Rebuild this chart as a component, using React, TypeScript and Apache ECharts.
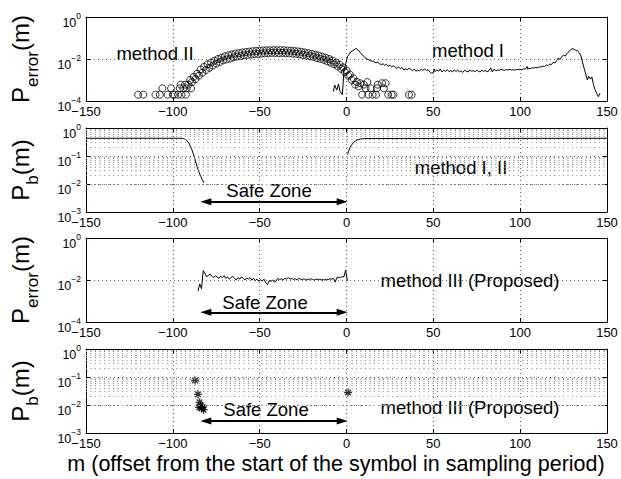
import React, { useEffect, useRef } from "react";
import * as echarts from "echarts";

const FONT = "'Liberation Sans', Arial, Helvetica, sans-serif";

// ---------- axis ticks ----------
const X_MIN = -150;
const X_MAX = 150;
const X_STEP = 50;
const MINOR_MULTS = [2, 3, 4, 5, 6, 7, 8, 9];
const MINOR_DECADES = [1e-3, 1e-2, 1e-1];

// ---------- panel 1 : method II (circles) ----------
const M2_POINTS: [number, number][] = [
  [-120, 2e-4], [-117, 2e-4], [-110, 2e-4], [-107.5, 2e-4], [-106, 4e-4], [-103, 2e-4],
  [-101, 4e-4], [-100, 2e-4], [-99, 2e-4], [-97, 2e-4], [-96, 4e-4], [-95.5, 6e-4],
  [-95, 2e-4], [-94, 4e-4], [-93, 6e-4], [-92.5, 2e-4], [-92, 4e-4], [-91, 6e-4],
  [-90, 1e-3], [-89.5, 4e-4], [-89, 8e-4], [-88, 1.4e-3], [-87, 1.1e-3], [-86, 2.0e-3],
  [-85, 1.6e-3], [-84, 3.2e-3], [-83, 2.2e-3], [-82, 4.2e-3], [-81, 3.0e-3], [-80, 5.6e-3],
  [-79, 3.8e-3], [-78, 6.8e-3], [-77, 4.8e-3], [-76, 8.2e-3], [-75, 6.0e-3], [-74, 1.0e-2],
  [-73, 7.2e-3], [-72, 1.15e-2], [-71, 8.6e-3], [-70, 1.35e-2], [-69, 9.6e-3], [-68, 1.5e-2],
  [-67, 1.05e-2], [-66, 1.65e-2], [-65, 1.2e-2], [-64, 1.8e-2], [-63, 1.3e-2], [-62, 1.9e-2],
  [-61, 1.4e-2], [-60, 2.05e-2], [-59, 1.5e-2], [-58, 2.15e-2], [-57, 1.55e-2], [-56, 2.25e-2],
  [-55, 1.65e-2], [-54, 2.35e-2], [-53, 1.7e-2], [-52, 2.4e-2], [-51, 1.75e-2], [-50, 2.5e-2],
  [-49, 1.8e-2], [-48, 2.55e-2], [-47, 1.85e-2], [-46, 2.6e-2], [-45, 1.9e-2], [-44, 2.6e-2],
  [-43, 1.95e-2], [-42, 2.65e-2], [-41, 1.95e-2], [-40, 2.6e-2], [-39, 1.9e-2], [-38, 2.65e-2],
  [-37, 1.95e-2], [-36, 2.6e-2], [-35, 1.9e-2], [-34, 2.55e-2], [-33, 1.85e-2], [-32, 2.5e-2],
  [-31, 1.8e-2], [-30, 2.4e-2], [-29, 1.75e-2], [-28, 2.3e-2], [-27, 1.65e-2], [-26, 2.2e-2],
  [-25, 1.55e-2], [-24, 2.05e-2], [-23, 1.45e-2], [-22, 1.9e-2], [-21, 1.35e-2], [-20, 1.75e-2],
  [-19, 1.25e-2], [-18, 1.6e-2], [-17, 1.1e-2], [-16, 1.45e-2], [-15, 1.0e-2], [-14, 1.3e-2],
  [-13, 9.0e-3], [-12, 1.15e-2], [-11, 7.8e-3], [-10, 1.0e-2], [-9, 6.6e-3], [-8, 8.4e-3],
  [-7, 5.6e-3], [-6, 6.8e-3], [-5, 4.4e-3], [-4, 5.4e-3], [-3, 3.4e-3], [-2, 4.0e-3],
  [-1, 2.4e-3], [0, 2.8e-3], [1, 1.6e-3], [2, 1.8e-3], [3, 1.0e-3], [4, 1.2e-3],
  [5, 6e-4], [6, 8e-4], [7, 5e-4], [8, 7e-4], [9, 2e-4], [10, 6e-4], [11, 4e-4],
  [12, 8e-4], [12.5, 2e-4], [14, 4e-4], [15, 2e-4], [17, 2e-4], [17.5, 4e-4], [18, 6e-4],
  [20.5, 7e-4], [21.5, 4e-4], [22.5, 7e-4], [24, 2e-4], [26, 2e-4], [27, 2e-4],
  [36, 2e-4], [37.5, 2e-4],
];

// ---------- panel 1 : method I (line) ----------
const M1_POINTS: [number, number][] = [
  [-7.6, 2.8e-4], [-6.8, 5.8e-4], [-5.6, 3.3e-4], [-4.6, 6.5e-4], [-3.7, 2.8e-4], [-2.4, 2.0e-4],
  [-1.4, 3.0e-3], [-0.4, 6.2e-3], [0.6, 1.3e-2], [2.5, 2.2e-2], [4, 2.6e-2], [5.4, 3.2e-2],
  [6.7, 2.7e-2], [8.2, 1.9e-2], [10, 1.3e-2], [11, 1.1e-2], [12.9, 9e-3], [14, 8.2e-3],
  [15.8, 7.4e-3], [17, 6.5e-3], [17.7, 7.2e-3], [19, 6.0e-3], [20, 5.4e-3], [21, 6.0e-3],
  [22, 5.0e-3], [23, 5.6e-3], [24, 4.6e-3], [25, 5.0e-3], [26, 4.2e-3], [27, 4.8e-3],
  [28, 4.0e-3], [29, 3.6e-3], [30, 4.2e-3], [31, 3.5e-3], [32, 3.9e-3], [33, 3.0e-3],
  [34, 3.4e-3], [35, 3.1e-3], [36, 3.6e-3], [37, 3.2e-3], [38, 2.8e-3], [39, 3.3e-3],
  [40, 2.6e-3], [41, 3.0e-3], [42, 2.7e-3], [43, 3.2e-3], [44, 2.9e-3], [45, 3.4e-3],
  [46, 2.8e-3], [47, 3.1e-3], [48, 2.4e-3], [49, 2.1e-3], [50, 2.3e-3], [50.5, 3.3e-3],
  [51, 2.5e-3], [52, 3.0e-3], [53, 2.6e-3], [54, 3.4e-3], [55, 2.4e-3], [56, 2.9e-3],
  [57, 2.6e-3], [58, 3.1e-3], [59, 2.5e-3], [60, 2.8e-3], [61, 2.4e-3], [62, 3.0e-3],
  [63, 2.6e-3], [64, 2.9e-3], [65, 2.5e-3], [66, 2.7e-3], [67, 2.3e-3], [68, 2.9e-3],
  [69, 2.6e-3], [70, 2.4e-3], [71, 3.0e-3], [72, 2.6e-3], [73, 2.8e-3], [74, 2.5e-3],
  [75, 2.9e-3], [76, 2.6e-3], [77, 2.4e-3], [78, 3.0e-3], [79, 2.6e-3], [80, 2.8e-3],
  [81, 2.5e-3], [82, 2.7e-3], [83, 3.8e-3], [84, 2.4e-3], [85, 3.3e-3], [86, 2.7e-3],
  [87, 3.0e-3], [88, 2.9e-3], [89, 3.2e-3], [90, 3.0e-3], [91, 2.9e-3], [92, 3.1e-3],
  [93, 3.0e-3], [94, 3.2e-3], [95, 3.0e-3], [96, 3.1e-3], [97, 2.9e-3], [98, 3.2e-3],
  [99, 3.1e-3], [100, 3.3e-3], [101, 3.0e-3], [102, 3.4e-3], [103, 3.3e-3], [104, 4.4e-3],
  [104.5, 3.2e-3], [105, 3.6e-3], [106, 3.5e-3], [107, 3.8e-3], [108, 3.7e-3], [109, 4.0e-3],
  [110, 3.8e-3], [111, 4.3e-3], [112, 4.1e-3], [113, 4.6e-3], [114, 4.4e-3], [115, 5.2e-3],
  [116, 4.8e-3], [117, 5.8e-3], [118, 5.4e-3], [119, 7.0e-3], [120, 6.4e-3], [121, 8.5e-3],
  [122, 1.1e-2], [123, 9.5e-3], [124, 1.3e-2], [125, 1.5e-2], [126, 1.4e-2], [127, 1.8e-2],
  [128, 2.2e-2], [129, 2.8e-2], [130, 3.1e-2], [131, 2.9e-2], [132, 2.6e-2], [133, 2.4e-2],
  [134, 2.0e-2], [135, 1.4e-2], [136, 6.5e-3], [137, 3.2e-3], [138, 1.6e-3], [138.7, 1.0e-3],
  [139.5, 1.5e-3], [140.5, 1.1e-3], [141.3, 1.4e-3], [142.2, 6e-4], [143.1, 3.5e-4],
  [144.1, 2.3e-4], [145, 1.6e-4], [146, 2.4e-4],
];

// ---------- panel 2 : Pb, methods I & II ----------
const PB12_LEFT: [number, number][] = [
  [-150, 0.43], [-95, 0.43], [-94, 0.42], [-93, 0.4], [-92, 0.36], [-91, 0.3], [-90, 0.23],
  [-89, 0.165], [-88, 0.11], [-87, 0.066], [-86, 0.041], [-85, 0.027], [-84, 0.019],
  [-83, 0.014], [-82, 0.011],
];
const PB12_RIGHT: [number, number][] = [
  [0.6, 0.11], [1, 0.14], [2, 0.2], [3, 0.25], [4, 0.3], [5, 0.34], [6, 0.37], [7, 0.39],
  [8, 0.405], [10, 0.42], [150, 0.43],
];

// ---------- panel 3 : method III error ----------
const M3_ERROR: [number, number][] = [
  [-85.5, 3.0e-3], [-84.5, 6.5e-3], [-83.5, 3.8e-3], [-82.5, 2.8e-2], [-81.5, 2.0e-2],
  [-80.5, 1.4e-2], [-79.5, 1.7e-2], [-78.5, 1.9e-2], [-77.5, 1.5e-2], [-76.5, 1.3e-2],
  [-75.5, 1.6e-2], [-74.5, 1.4e-2], [-73.5, 1.2e-2], [-72.5, 1.5e-2], [-71.5, 1.3e-2],
  [-70.5, 1.6e-2], [-69.5, 1.2e-2], [-68.5, 1.4e-2], [-67.5, 1.1e-2], [-66.5, 1.3e-2],
  [-65.5, 1.5e-2], [-64.5, 1.2e-2], [-63.5, 1.0e-2], [-62.5, 1.3e-2], [-61.5, 1.1e-2],
  [-60.5, 1.4e-2], [-59.5, 1.2e-2], [-58.5, 1.0e-2], [-57.5, 1.25e-2], [-56.5, 1.1e-2],
  [-55.5, 1.3e-2], [-54.5, 1.0e-2], [-53.5, 1.2e-2], [-52.5, 9.5e-3], [-51.5, 1.1e-2],
  [-50.5, 8.5e-3], [-49.5, 1.05e-2], [-48.5, 9.0e-3], [-47.5, 1.1e-2], [-46.5, 7.5e-3],
  [-45.5, 6.0e-3], [-44.5, 9.5e-3], [-43.5, 8.5e-3], [-42.5, 1.0e-2], [-41.5, 8.0e-3],
  [-40.5, 9.0e-3], [-39.5, 1.2e-2], [-38.5, 1.05e-2], [-37.5, 1.15e-2], [-36.5, 1.0e-2],
  [-35.5, 1.2e-2], [-34.5, 1.1e-2], [-33.5, 1.3e-2], [-32.5, 1.1e-2], [-31.5, 1.2e-2],
  [-30.5, 1.05e-2], [-29.5, 1.15e-2], [-28.5, 1.0e-2], [-27.5, 1.2e-2], [-26.5, 1.1e-2],
  [-25.5, 1.05e-2], [-24.5, 1.15e-2], [-23.5, 1.0e-2], [-22.5, 1.1e-2], [-21.5, 1.05e-2],
  [-20.5, 1.15e-2], [-19.5, 1.05e-2], [-18.5, 1.0e-2], [-17.5, 1.1e-2], [-16.5, 1.05e-2],
  [-15.5, 1.1e-2], [-14.5, 1.0e-2], [-13.5, 1.05e-2], [-12.5, 1.0e-2], [-11.5, 1.1e-2],
  [-10.5, 1.05e-2], [-9.5, 1.15e-2], [-8.5, 1.1e-2], [-7.5, 1.2e-2], [-6.5, 8.0e-3],
  [-5.5, 1.3e-2], [-4.5, 1.35e-2], [-3.5, 1.3e-2], [-2.5, 1.45e-2], [-1.5, 1.4e-2],
  [-0.5, 2.9e-2], [0.5, 9.0e-3],
];

// ---------- panel 4 : method III Pb (stars) ----------
const M3_PB_LEFT: [number, number][] = [
  [-87.2, 0.075], [-85.5, 0.024], [-84.9, 0.0082], [-84.6, 0.0125], [-84.0, 0.0095],
  [-83.4, 0.0078], [-82.8, 0.0085], [-82.3, 0.0068],
];
const M3_PB_RIGHT: [number, number][] = [[0.9, 0.028]];

// ---------- safe zone arrows ----------
const SAFE_ZONE = [-81, -2.5];
const SAFE_ARROW_Y = [2.3e-3, 2.9e-4, 2.7e-3]; // panels 2, 3, 4

// ---------- layout / per-panel axes ----------
const GRID_LEFT = 82;
const GRID_WIDTH = 525;
const GRID_HEIGHT = 84;
const GRID_TOPS = [17, 128, 238, 349];
const Y_MINS = [1e-4, 1e-3, 1e-4, 1e-3];
const Y_MAXS = [1, 1, 1, 1];
const Y_LOG_BASES = [100, 10, 100, 10];
const Y_SUBSCRIPTS = ["error", "b", "error", "b"];

const STAR_PATH = "path://M0,5L10,5M5,0L5,10M1.5,1.5L8.5,8.5M8.5,1.5L1.5,8.5";

const xLabel = (v: number) => (v < 0 ? "\u2212" + Math.abs(v) : String(v));
const expLabel = (v: number) => {
  const e = Math.round(Math.log10(v));
  const s = e < 0 ? "\u2212" + Math.abs(e) : String(e);
  return `{b|10}{s|${s}}`;
};

const GRID_DOT = { type: [1, 3] as number[], color: "#666", width: 1 };
const MINOR_DOT = { type: [1, 3.5] as number[], color: "#8a8a8a", width: 1 };

function buildOption() {
  const grid = GRID_TOPS.map((top) => ({
    left: GRID_LEFT,
    top,
    width: GRID_WIDTH,
    height: GRID_HEIGHT,
    show: false,
  }));

  const xAxis: any[] = [];
  const yAxis: any[] = [];
  GRID_TOPS.forEach((_, i) => {
    xAxis.push({
      gridIndex: i,
      type: "value",
      min: X_MIN,
      max: X_MAX,
      interval: X_STEP,
      position: "bottom",
      axisLine: { show: true, onZero: false, lineStyle: { color: "#000", width: 1 } },
      axisTick: { show: true, inside: true, length: 4, lineStyle: { color: "#000" } },
      axisLabel: {
        show: true,
        margin: 4,
        showMinLabel: true,
        showMaxLabel: true,
        hideOverlap: false,
        formatter: xLabel,
        color: "#000",
        fontSize: 13,
        fontFamily: FONT,
      },
      splitLine: { show: true, lineStyle: GRID_DOT },
    });
    xAxis.push({
      gridIndex: i,
      type: "value",
      min: X_MIN,
      max: X_MAX,
      interval: X_STEP,
      position: "top",
      axisLine: { show: true, onZero: false, lineStyle: { color: "#000", width: 1 } },
      axisTick: { show: true, inside: true, length: 4, lineStyle: { color: "#000" } },
      axisLabel: { show: false },
      splitLine: { show: false },
    });
    yAxis.push({
      gridIndex: i,
      type: "log",
      logBase: Y_LOG_BASES[i],
      min: Y_MINS[i],
      max: Y_MAXS[i],
      position: "left",
      axisLine: { show: true, onZero: false, lineStyle: { color: "#000", width: 1 } },
      axisTick: { show: true, inside: true, length: 4, lineStyle: { color: "#000" } },
      axisLabel: {
        show: true,
        margin: 5,
        showMinLabel: true,
        showMaxLabel: true,
        hideOverlap: false,
        formatter: expLabel,
        rich: {
          b: { fontSize: 12.5, fontFamily: FONT, color: "#000", lineHeight: 12, padding: [5, 0, 5, 0], verticalAlign: "top" },
          s: { fontSize: 8.5, fontFamily: FONT, color: "#000", lineHeight: 9, padding: [0, 0, 0, 0], verticalAlign: "top" },
        },
      },
      splitLine: { show: true, lineStyle: GRID_DOT },
      name: `{P|P}{sub|${Y_SUBSCRIPTS[i]}}{P|(m)}`,
      nameLocation: "middle",
      nameRotate: 90,
      nameGap: 50,
      nameTextStyle: {
        rich: {
          P: { fontSize: 24, fontFamily: FONT, color: "#000", lineHeight: 28, verticalAlign: "top" },
          sub: { fontSize: 17, fontFamily: FONT, color: "#000", lineHeight: 20, padding: [16, 0, 0, 0], verticalAlign: "top" },
        },
      },
    });
    yAxis.push({
      gridIndex: i,
      type: "log",
      logBase: Y_LOG_BASES[i],
      min: Y_MINS[i],
      max: Y_MAXS[i],
      position: "right",
      axisLine: { show: true, onZero: false, lineStyle: { color: "#000", width: 1 } },
      axisTick: { show: true, inside: true, length: 4, lineStyle: { color: "#000" } },
      axisLabel: { show: false },
      splitLine: { show: false },
    });
  });

  const minorLines = MINOR_DECADES.flatMap((d) => MINOR_MULTS.map((m) => ({ yAxis: m * d })));
  const minorMark = {
    silent: true,
    symbol: ["none", "none"],
    label: { show: false },
    lineStyle: MINOR_DOT,
    emphasis: { disabled: true },
    data: minorLines,
  };
  const arrowMark = (y: number) => ({
    silent: true,
    symbol: ["triangle", "triangle"],
    symbolSize: [7, 11],
    label: { show: false },
    lineStyle: { color: "#000", width: 2, type: "solid" },
    emphasis: { disabled: true },
    data: [[{ coord: [SAFE_ZONE[0], y] }, { coord: [SAFE_ZONE[1], y] }]],
  });

  const lineStyle = { color: "#000", width: 1 };

  const series: any[] = [
    {
      type: "scatter",
      xAxisIndex: 0,
      yAxisIndex: 0,
      data: M2_POINTS,
      symbol: "circle",
      symbolSize: 7,
      itemStyle: { color: "rgba(0,0,0,0)", borderColor: "#000", borderWidth: 1 },
      silent: true,
    },
    {
      type: "line",
      xAxisIndex: 0,
      yAxisIndex: 0,
      data: M1_POINTS,
      showSymbol: false,
      symbol: "none",
      lineStyle,
      silent: true,
    },
    {
      type: "line",
      xAxisIndex: 2,
      yAxisIndex: 2,
      data: PB12_LEFT,
      showSymbol: false,
      symbol: "none",
      lineStyle,
      silent: true,
      markLine: arrowMark(SAFE_ARROW_Y[0]),
    },
    {
      type: "line",
      xAxisIndex: 2,
      yAxisIndex: 2,
      data: PB12_RIGHT,
      showSymbol: false,
      symbol: "none",
      lineStyle,
      silent: true,
      markLine: minorMark,
    },
    {
      type: "line",
      xAxisIndex: 4,
      yAxisIndex: 4,
      data: M3_ERROR,
      showSymbol: false,
      symbol: "none",
      lineStyle,
      silent: true,
      markLine: arrowMark(SAFE_ARROW_Y[1]),
    },
    {
      type: "scatter",
      xAxisIndex: 6,
      yAxisIndex: 6,
      data: M3_PB_LEFT,
      symbol: STAR_PATH,
      symbolSize: 8,
      itemStyle: { color: "rgba(0,0,0,0)", borderColor: "#000", borderWidth: 1.3 },
      silent: true,
      markLine: arrowMark(SAFE_ARROW_Y[2]),
    },
    {
      type: "scatter",
      xAxisIndex: 6,
      yAxisIndex: 6,
      data: M3_PB_RIGHT,
      symbol: STAR_PATH,
      symbolSize: 8,
      itemStyle: { color: "rgba(0,0,0,0)", borderColor: "#000", borderWidth: 1.3 },
      silent: true,
      markLine: minorMark,
    },
  ];

  const txt = (text: string, x: number, y: number, size = 18.5) => ({
    type: "text",
    x,
    y,
    silent: true,
    style: {
      text,
      font: `${size}px ${FONT}`,
      fill: "#000",
      textAlign: "center",
      textVerticalAlign: "middle",
      align: "center",
      verticalAlign: "middle",
    },
  });

  const graphic = [
    txt("method II", 155, 53),
    txt("method I", 468, 50),
    txt("method I, II", 461, 167),
    txt("Safe Zone", 269, 190),
    txt("Safe Zone", 265, 302),
    txt("method III (Proposed)", 470, 280),
    txt("Safe Zone", 266, 409),
    txt("method III (Proposed)", 470, 407),
    txt("m (offset from the start of the symbol in sampling period)", 336, 464, 21.5),
  ];

  return {
    animation: false,
    backgroundColor: "#fff",
    textStyle: { fontFamily: FONT },
    grid,
    xAxis,
    yAxis,
    series,
    graphic,
  };
}

export default function App() {
  const ref = useRef<HTMLDivElement>(null);
  useEffect(() => {
    if (!ref.current) return;
    const chart = echarts.init(ref.current, undefined, { renderer: "svg" });
    chart.setOption(buildOption() as any);
    return () => chart.dispose();
  }, []);
  return (
    <div
      ref={ref}
      style={{ position: "fixed", left: 0, top: 0, width: 621, height: 479, background: "#fff" }}
    />
  );
}
